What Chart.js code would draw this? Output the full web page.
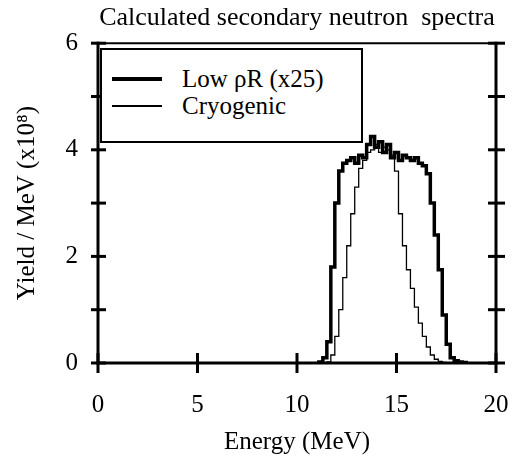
<!DOCTYPE html>
<html>
<head>
<meta charset="utf-8">
<script src="https://cdn.jsdelivr.net/npm/chart.js@4.4.1/dist/chart.umd.min.js"></script>
<style>
  body { margin: 0; background: #fff; }
  #wrap { position: relative; width: 512px; height: 468px; }
  #legend {
    position: absolute; left: 100px; top: 48px; width: 259px; height: 91px;
    border: 2px solid #000; background: #fff;
    font-family: "Liberation Serif", "Times New Roman", serif; font-size: 25px; color: #000;
  }
  .row { position: absolute; left: 10px; height: 26px; display: flex; align-items: center; }
  .swatch { width: 50px; background: #000; margin-right: 20px; }
</style>
</head>
<body>
<div id="wrap">
  <canvas id="spectra"></canvas>
  <div id="legend"></div>
</div>
<script>
// bin centres (MeV), 0.2 MeV bins
let energy = [11.0, 11.2, 11.4, 11.6, 11.8, 12.0, 12.2, 12.4, 12.6, 12.8,
  13.0, 13.2, 13.4, 13.6, 13.8, 14.0, 14.2, 14.4, 14.6, 14.8,
  15.0, 15.2, 15.4, 15.6, 15.8, 16.0, 16.2, 16.4, 16.6, 16.8,
  17.0, 17.2, 17.4, 17.6, 17.8, 18.0, 18.2, 18.4, 18.6];

// yield / MeV (x10^8)
let lowRhoR = [0, 0.02, 0.1, 0.4, 1.8, 3.0, 3.6, 3.75, 3.8, 3.85,
  3.75, 3.9, 3.85, 4.1, 4.25, 4.05, 4.15, 3.95, 4.1, 3.85,
  3.95, 3.8, 3.9, 3.85, 3.8, 3.85, 3.75, 3.7, 3.55, 3.0,
  2.4, 1.75, 0.9, 0.35, 0.1, 0.04, 0.02, 0.01, 0];

let cryogenic = [0, 0, 0, 0.02, 0.15, 0.5, 1.0, 1.6, 2.2, 2.8,
  3.3, 3.65, 3.8, 3.95, 4.0, 4.1, 3.95, 4.05, 4.0, 3.9,
  3.6, 2.8, 2.2, 1.75, 1.4, 1.05, 0.75, 0.5, 0.3, 0.15,
  0.07, 0.03, 0.01, 0, 0, 0, 0, 0, 0];

let seriesNames = ['Low \u03c1R (x25)', 'Cryogenic'];
let lineWidths = [3.5, 1.3];

let xTicks = [0, 5, 10, 15, 20];
let yTicks = [0, 1, 2, 3, 4, 5, 6];
let yLabelled = [0, 2, 4, 6];

let serif = '"Liberation Serif", "Times New Roman", serif';
Chart.defaults.font.family = serif;
Chart.defaults.color = '#000';

let toPoints = vals => energy.map((e, i) => ({ x: e, y: vals[i] }));

// axis frame with ticks crossing the axes
const frame = {
  id: 'frame',
  afterDraw(chart) {
    const { ctx, chartArea: a, scales: { x, y } } = chart;
    ctx.save();
    ctx.strokeStyle = '#000';
    const seg = (x1, y1, x2, y2, w) => {
      ctx.lineWidth = w;
      ctx.beginPath();
      ctx.moveTo(x1, y1);
      ctx.lineTo(x2, y2);
      ctx.stroke();
    };
    for (const t of x.ticks) {
      const px = x.getPixelForValue(t.value);
      seg(px, a.bottom - 10, px, a.bottom + 10, 3);
    }
    for (const t of y.ticks) {
      const py = y.getPixelForValue(t.value);
      seg(a.left - 7, py, a.left + 8, py, 3);
      seg(a.right - 8, py, a.right + 9, py, 3);
    }
    ctx.lineCap = 'square';
    seg(a.left, a.top, a.right, a.top, 2);
    seg(a.left, a.top, a.left, a.bottom, 3);
    seg(a.right, a.top, a.right, a.bottom, 3);
    seg(a.left, a.bottom, a.right, a.bottom, 3);
    ctx.restore();
  }
};

let renderChart = () => {
  let canvas = document.getElementById('spectra');
  new Chart(canvas, {
    type: 'line',
    data: {
      datasets: [lowRhoR, cryogenic].map((vals, i) => ({
        label: seriesNames[i],
        data: toPoints(vals),
        borderColor: '#000',
        borderWidth: lineWidths[i],
        pointRadius: 0,
        stepped: 'middle',
        fill: false,
      })),
    },
    options: {
      responsive: true,
      maintainAspectRatio: false,
      animation: false,
      layout: { padding: { left: 0, right: 16, top: 0, bottom: 0 } },
      plugins: {
        legend: { display: false },
        tooltip: { enabled: false },
        title: {
          display: true,
          fullSize: false,
          text: 'Calculated secondary neutron  spectra',
          font: { size: 26, weight: 'normal' },
          padding: { top: 3, bottom: 9 },
        },
      },
      scales: {
        x: {
          type: 'linear', min: 0, max: 20,
          grid: { display: false, drawTicks: false },
          border: { display: false },
          afterBuildTicks: s => { s.ticks = xTicks.map(v => ({ value: v })); },
          ticks: { padding: 27, font: { size: 25 }, autoSkip: false, maxRotation: 0 },
          title: { display: true, text: 'Energy (MeV)', font: { size: 25 }, padding: 11 },
          afterFit: s => { s.height = 105; s.paddingLeft = 0; s.paddingRight = 0; },
        },
        y: {
          type: 'linear', min: 0, max: 6,
          grid: { display: false, drawTicks: false },
          border: { display: false },
          afterBuildTicks: s => { s.ticks = yTicks.map(v => ({ value: v })); },
          ticks: {
            padding: 20, font: { size: 25 }, autoSkip: false,
            callback: v => yLabelled.includes(v) ? v : '',
          },
          title: { display: true, text: 'Yield / MeV (x10\u2078)', font: { size: 25 }, padding: 12 },
          afterFit: s => { s.width = 98; s.paddingTop = 0; s.paddingBottom = 0; },
        },
      },
    },
    plugins: [frame],
  });
};

// legend box inside the plot
let renderLegend = () => {
  let box = document.getElementById('legend');
  seriesNames.forEach((name, i) => {
    let row = document.createElement('div');
    row.className = 'row';
    row.style.top = (16 + i * 27) + 'px';
    let sw = document.createElement('span');
    sw.className = 'swatch';
    sw.style.height = lineWidths[i] + 'px';
    let txt = document.createElement('span');
    txt.textContent = name;
    row.appendChild(sw);
    row.appendChild(txt);
    box.appendChild(row);
  });
};

renderChart();
renderLegend();
</script>
</body>
</html>
